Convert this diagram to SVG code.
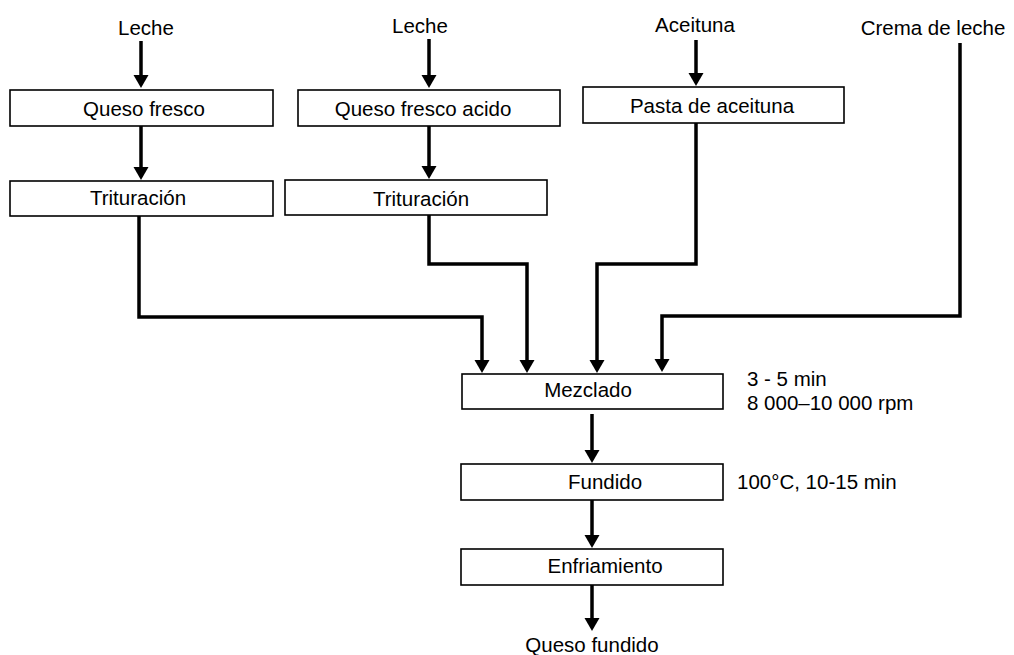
<svg xmlns="http://www.w3.org/2000/svg" width="1014" height="655" viewBox="0 0 1014 655">
  <style>
    .box { fill: #ffffff; stroke: #000000; stroke-width: 1.6; }
    .lbl { font-family: "Liberation Sans", Arial, sans-serif; font-size: 20.5px; fill: #000000; }
    .mid { text-anchor: middle; }
    .flow { fill: none; stroke: #000000; stroke-width: 3.5; stroke-linejoin: miter; }
  </style>
  <defs>
    <marker id="head" markerUnits="userSpaceOnUse" markerWidth="16" markerHeight="16" viewBox="0 -8 14 16" refX="3" refY="0" orient="auto">
      <path d="M0,-7.5 L13,0 L0,7.5 Z" fill="#000000"/>
    </marker>
  </defs>
  <rect width="1014" height="655" fill="#ffffff"/>

  <!-- connectors -->
  <g id="connectors">
    <path class="flow" marker-end="url(#head)" d="M141,41 V78"/>
    <path class="flow" marker-end="url(#head)" d="M141,126 V170"/>
    <path class="flow" marker-end="url(#head)" d="M429,39 V78"/>
    <path class="flow" marker-end="url(#head)" d="M429,126 V169"/>
    <path class="flow" marker-end="url(#head)" d="M696,40 V76"/>
    <path class="flow" marker-end="url(#head)" d="M139,216 V317 H482 V363"/>
    <path class="flow" marker-end="url(#head)" d="M429,215 V264 H527 V363"/>
    <path class="flow" marker-end="url(#head)" d="M696,123 V264 H597 V363"/>
    <path class="flow" marker-end="url(#head)" d="M960,43 V316 H662 V362"/>
    <path class="flow" marker-end="url(#head)" d="M592,414 V453"/>
    <path class="flow" marker-end="url(#head)" d="M592,500 V538"/>
    <path class="flow" marker-end="url(#head)" d="M592,585 V621"/>
  </g>

  <!-- raw materials -->
  <g id="leche-1"><text class="lbl mid" x="146" y="35">Leche</text></g>
  <g id="leche-2"><text class="lbl mid" x="420" y="33">Leche</text></g>
  <g id="aceituna"><text class="lbl mid" x="695" y="32">Aceituna</text></g>
  <g id="crema"><text class="lbl mid" x="933" y="35">Crema de leche</text></g>

  <!-- first line of processing -->
  <g id="queso-fresco">
    <rect class="box" x="10" y="90" width="263" height="36"/>
    <text class="lbl mid" x="144" y="116">Queso fresco</text>
  </g>
  <g id="trituracion-1">
    <rect class="box" x="10" y="181" width="263" height="35"/>
    <text class="lbl mid" x="138" y="205">Trituración</text>
  </g>

  <!-- second line of processing -->
  <g id="queso-fresco-acido">
    <rect class="box" x="298" y="90" width="262" height="36"/>
    <text class="lbl mid" x="423" y="116">Queso fresco acido</text>
  </g>
  <g id="trituracion-2">
    <rect class="box" x="285" y="180" width="262" height="35"/>
    <text class="lbl mid" x="421" y="206">Trituración</text>
  </g>

  <!-- olive paste -->
  <g id="pasta-aceituna">
    <rect class="box" x="583" y="87" width="261" height="36"/>
    <text class="lbl mid" x="712" y="113">Pasta de aceituna</text>
  </g>

  <!-- common process -->
  <g id="mezclado">
    <rect class="box" x="462" y="374" width="261" height="35"/>
    <text class="lbl mid" x="588" y="397">Mezclado</text>
    <text class="lbl" x="747" y="386">3 - 5 min</text>
    <text class="lbl" x="747" y="410">8 000–10 000 rpm</text>
  </g>
  <g id="fundido">
    <rect class="box" x="461" y="464" width="262" height="36"/>
    <text class="lbl mid" x="605" y="489">Fundido</text>
    <text class="lbl" x="737" y="489">100°C, 10-15 min</text>
  </g>
  <g id="enfriamiento">
    <rect class="box" x="461" y="549" width="262" height="36"/>
    <text class="lbl mid" x="605" y="573">Enfriamiento</text>
  </g>
  <g id="queso-fundido"><text class="lbl mid" x="592" y="652">Queso fundido</text></g>
</svg>
